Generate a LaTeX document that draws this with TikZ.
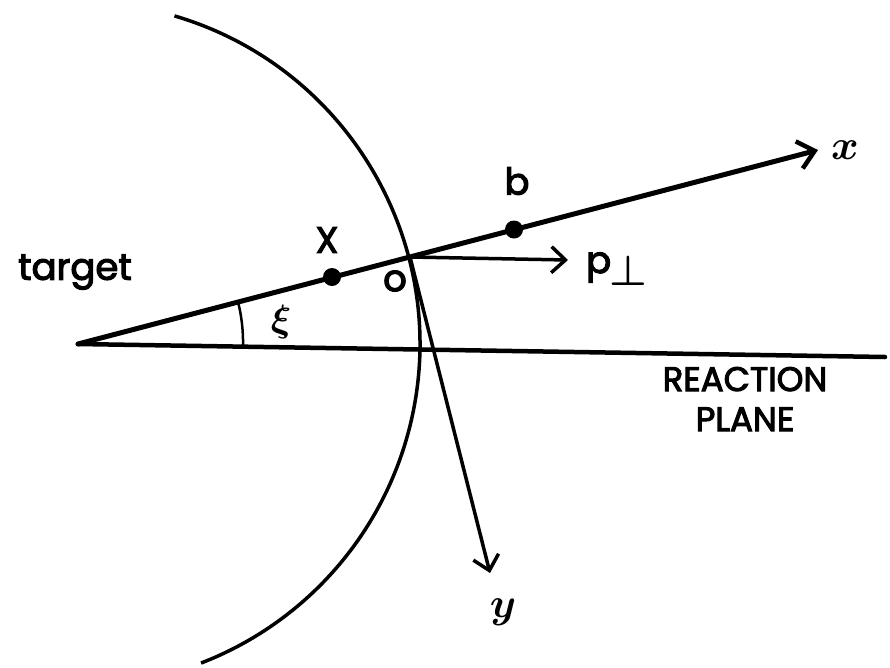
\documentclass[tikz,border=0pt]{standalone}
\usepackage{bm}
\usepackage{fontspec}
\setmainfont{Poppins}[FakeBold=3]
\usetikzlibrary{arrows.meta}
\begin{document}
\begin{tikzpicture}[x=1pt,y=-1pt,
  axis/.style={line width=4.5pt, line cap=round},
  vec/.style={line width=3.5pt, -{Straight Barb[length=14pt,width=26pt,line width=3.5pt]}},
  circ/.style={line width=3.5pt},
  lab/.style={inner sep=0pt},
  biglab/.style={font=\fontsize{37}{40}\selectfont, inner sep=0pt},
  caplab/.style={font=\fontsize{34}{40}\selectfont, inner sep=0pt, align=center},
  dot/.style={circle, fill=black, minimum size=18pt, inner sep=0pt}]
\useasboundingbox (0,0) rectangle (890,667);
% points
\coordinate (T) at (78,344);
\coordinate (O) at (410,257);
\coordinate (XT) at (818,150);
\coordinate (PE) at (885,357);
\coordinate (PT) at (568,260);
\coordinate (YT) at (490,573);
\coordinate (AT) at (174.5,15.9);
\coordinate (XI) at (243,345);
% reaction plane
\draw[axis] (T) -- (PE);
% x axis
\draw[axis, line width=5pt, -{Straight Barb[length=16pt,width=28pt,line width=4.5pt]}] (T) -- (XT);
% circle arc centred on target
\draw[circ] (AT) arc[start angle=-73.6, end angle=68.9, radius=342];
% angle xi
\draw[line width=2.5pt] (XI) arc[start angle=1, end angle=-14.7, radius=165];
% p perp and y arrows
\draw[vec] (O) -- (PT);
\draw[vec] (O) -- (YT);
% dots
\node[dot] (Xd) at (332,277) {};
\node[dot] (bd) at (514,229.5) {};
% labels
\node[biglab] (ltarget) at (75,272) {target};
\node[biglab] (lX) at (327,240) {X};
\node[biglab] (lb) at (517,181) {b};
\node[biglab] (lo) at (395,281) {o};
\node[lab] (lxi) at (281,322) {\scalebox{3.8}{$\bm{\xi}$}};
\node[biglab, anchor=base west] (lp) at (586,273) {p\kern-2pt\raisebox{-12pt}{\scalebox{1.7}{$\bm{\perp}$}}};
\node[caplab] (lrp) at (745,399) {REACTION\\PLANE};
\node[lab] (lx) at (845,150) {\scalebox{4.2}{$\bm{x}$}};
\node[lab] (ly) at (503,612) {\scalebox{4.2}{$\bm{y}$}};
\end{tikzpicture}
\end{document}
